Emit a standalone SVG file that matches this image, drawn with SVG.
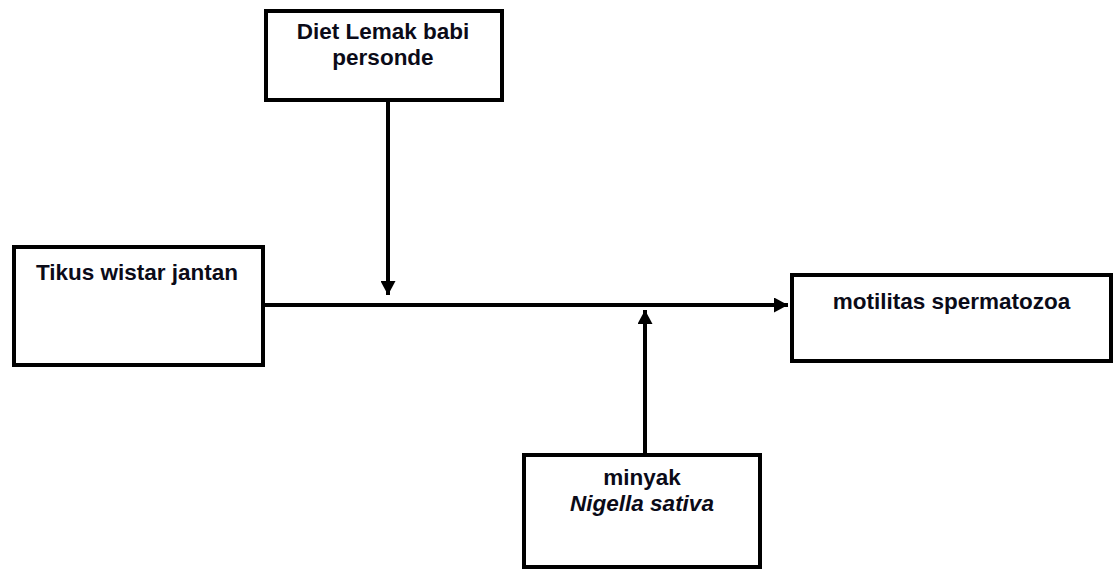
<svg xmlns="http://www.w3.org/2000/svg" width="1116" height="571" viewBox="0 0 1116 571">
<style>
.box{fill:#fff;stroke:#000;stroke-width:4}
.t{font-family:"Liberation Sans",Arial,sans-serif;font-weight:bold;font-size:22.5px;fill:#0b0b18;text-anchor:middle}
.c{stroke:#000;stroke-width:4;fill:none}
</style>
<defs>
<marker id="ah" markerUnits="userSpaceOnUse" markerWidth="15" markerHeight="15" refX="14" refY="7.5" orient="auto">
<path d="M0,0 L14,7.5 L0,15 z" fill="#000"/>
</marker>
</defs>
<rect width="1116" height="571" fill="#fff"/>
<g id="connectors">
<line class="c" x1="263" y1="305" x2="788" y2="305" marker-end="url(#ah)"/>
<line class="c" x1="388" y1="100" x2="388" y2="295" marker-end="url(#ah)"/>
<line class="c" x1="645" y1="455" x2="645" y2="310" marker-end="url(#ah)"/>
</g>
<g id="diet">
<rect class="box" x="266" y="11" width="236" height="89"/>
<text class="t" x="383" y="39">Diet Lemak babi</text>
<text class="t" x="383" y="65">personde</text>
</g>
<g id="tikus">
<rect class="box" x="14" y="247" width="249" height="118"/>
<text class="t" x="137" y="280">Tikus wistar jantan</text>
</g>
<g id="motilitas">
<rect class="box" x="792" y="275" width="319" height="86"/>
<text class="t" x="951.5" y="309">motilitas spermatozoa</text>
</g>
<g id="minyak">
<rect class="box" x="524" y="455" width="236" height="112"/>
<text class="t" x="642" y="485">minyak</text>
<text class="t" x="642" y="511" font-style="italic">Nigella sativa</text>
</g>
</svg>
